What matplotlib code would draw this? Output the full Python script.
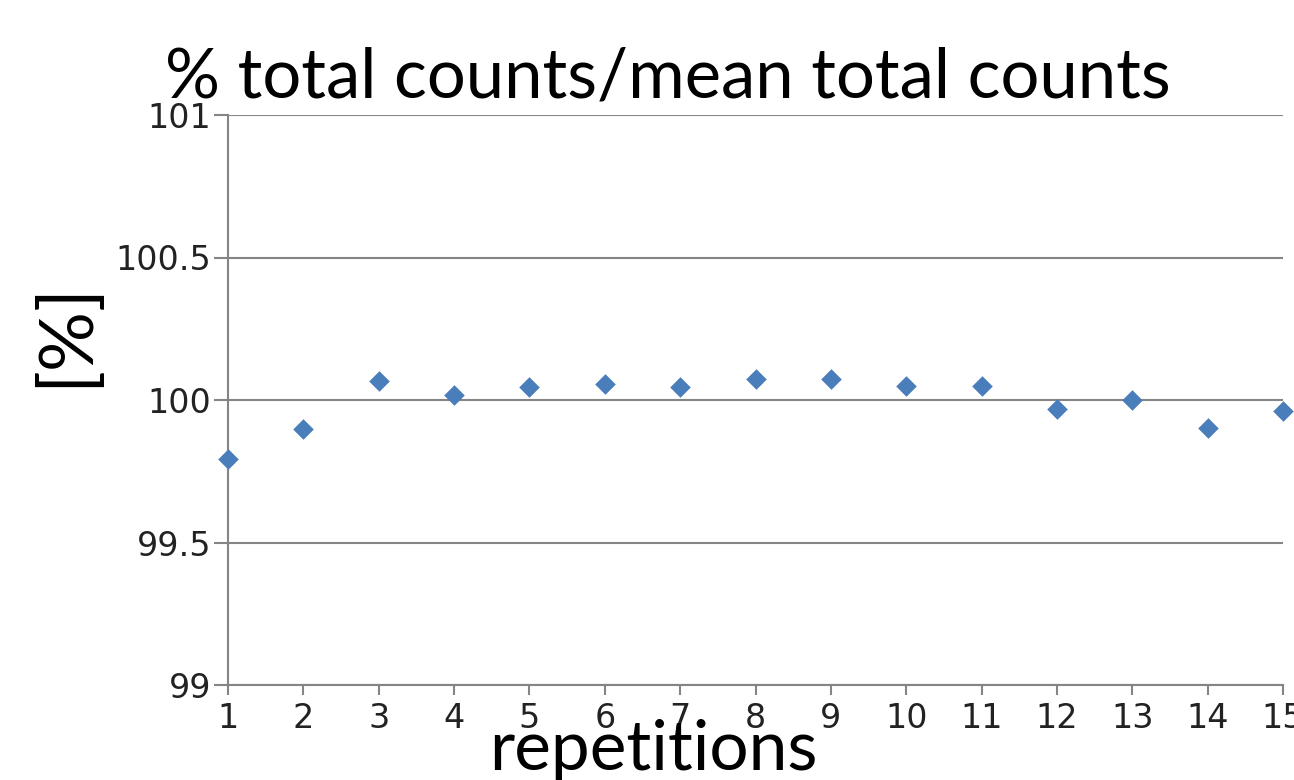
import matplotlib
matplotlib.use("Agg")
import matplotlib.pyplot as plt

# repetition number and total counts relative to mean [%]
repetitions = [1, 2, 3, 4, 5, 6, 7, 8, 9, 10, 11, 12, 13, 14, 15]
percent = [99.792, 99.898, 100.067, 100.016, 100.045, 100.057, 100.045,
           100.074, 100.074, 100.050, 100.050, 99.969, 99.999, 99.903, 99.960]
yticks = [99, 99.5, 100, 100.5, 101]
ytick_labels = ["99", "99.5", "100", "100.5", "101"]

fig = plt.figure(figsize=(12.94, 7.8), dpi=100)
ax = fig.add_axes([228 / 1294, 95 / 780, 1055 / 1294, 570 / 780])

grid_col = "#858585"
ax.set_xlim(1, 15)
ax.set_ylim(99, 101)
ax.set_yticks(yticks)
ax.set_yticklabels(ytick_labels)
ax.set_xticks(repetitions)
ax.grid(axis="y", color=grid_col, linewidth=1.5, zorder=1)
ax.set_axisbelow(True)

for side in ["top", "right"]:
    ax.spines[side].set_visible(False)
for side in ["left", "bottom"]:
    ax.spines[side].set_color(grid_col)
    ax.spines[side].set_linewidth(1.5)

ax.tick_params(axis="y", length=10, width=1.5, color=grid_col, pad=2,
               labelsize=24, labelcolor="#222222")
ax.tick_params(axis="x", length=7, width=1.5, color=grid_col, pad=5,
               labelsize=24, labelcolor="#222222")

# points
ax.scatter(repetitions, percent, marker="D", s=110, color="#4a7ebb",
           zorder=3, clip_on=False, linewidths=0)

fig.text(0.516, 0.875, "% total counts/mean total counts", fontsize=49.5,
         family="Lato", ha="center", va="baseline")
fig.text(0.051, 0.572, "[%]", fontsize=54, family="Lato", rotation=90,
         ha="center", va="center")
fig.text(0.505, 0.013, "repetitions", fontsize=50, family="Lato",
         ha="center", va="baseline")

fig.savefig("out.png", dpi=100)
